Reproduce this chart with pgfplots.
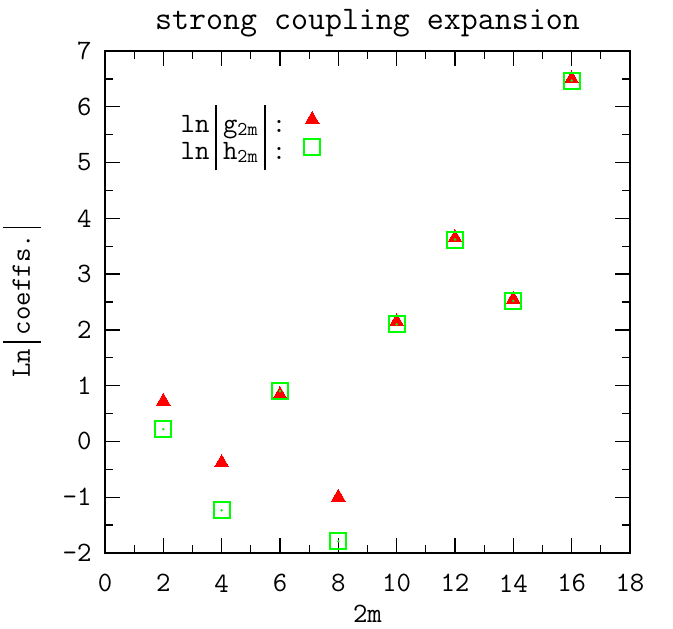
\documentclass[border=0pt]{standalone}
\usepackage{pgfplots}
\pgfplotsset{compat=1.18}
\definecolor{gred}{RGB}{255,0,0}
\definecolor{ggreen}{RGB}{0,255,0}
\newcommand{\vbar}{\hspace{6pt}\vrule width 1.6pt height 0.95em depth 0.4em\hspace{6pt}}
\begin{document}
\begin{tikzpicture}
\useasboundingbox (-105pt,-76pt) rectangle (568pt,553pt);
\begin{axis}[
  scale only axis, width=525pt, height=502pt,
  at={(0pt,0pt)}, anchor=south west,
  xmin=0, xmax=18, ymin=-2, ymax=7,
  xtick={0,2,...,18}, ytick={-2,-1,...,7},
  minor x tick num=1, minor y tick num=1,
  tick align=inside, major tick length=15pt, minor tick length=8pt,
  every tick/.style={black, line width=1.3pt},
  axis line style={line width=1.6pt},
  /pgf/number format/assume math mode=true,
  tick label style={font=\fontsize{28}{30}\ttfamily},
  xticklabel style={yshift=-18pt},
  yticklabel style={xshift=-10pt},
  title={strong coupling expansion},
  title style={font=\fontsize{33}{36}\ttfamily, yshift=4pt},
  xlabel={2m}, ylabel={Ln\vbar coeffs.\vbar},
  label style={font=\fontsize{28}{30}\ttfamily},
  xlabel style={yshift=-9pt, inner sep=0pt},
  ylabel style={yshift=18pt, inner sep=0pt},
  legend plot pos=right,
  legend cell align=right,
  legend style={draw=none, fill=none, at={(0.416,0.90)}, anchor=north east,
    font=\fontsize{28}{30}\ttfamily, row sep=-5pt},
]
\addplot[only marks, mark=triangle*, mark size=8pt, color=gred,
  mark options={line width=0pt}] coordinates {
  (2,0.72) (4,-0.38) (6,0.84) (8,-1.0) (10,2.15) (12,3.65) (14,2.55) (16,6.5)};
\addlegendentry{ln\vbar g\textsubscript{2m}\vbar:\rule{16pt}{0pt}}
\addplot[only marks, mark=square, mark size=8pt, color=ggreen,
  mark options={line width=2pt}] coordinates {
  (2,0.22) (4,-1.235) (6,0.9) (8,-1.79) (10,2.1) (12,3.62) (14,2.52) (16,6.47)};
\addlegendentry{ln\vbar h\textsubscript{2m}\vbar:\rule{16pt}{0pt}}
\addplot[only marks, mark=*, mark size=1pt, color=ggreen, forget plot] coordinates {
  (2,0.22) (4,-1.235) (6,0.9) (8,-1.79) (10,2.1) (12,3.62) (14,2.52) (16,6.47)};
\end{axis}
\end{tikzpicture}
\end{document}
